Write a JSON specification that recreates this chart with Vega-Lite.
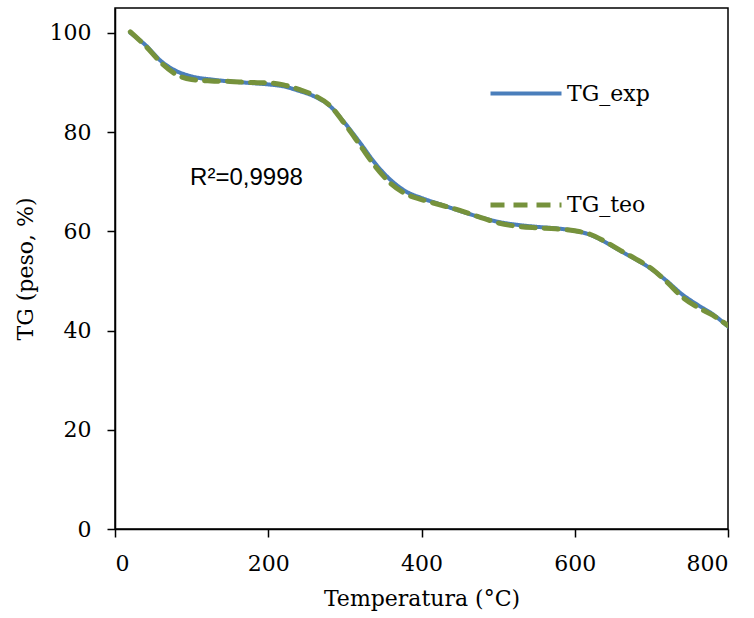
{
  "$schema": "https://vega.github.io/schema/vega-lite/v6.json",
  "autosize": "none",
  "padding": {"left": 115, "top": 8, "right": 26, "bottom": 89},
  "width": 613,
  "height": 521,
  "config": {
    "view": {"stroke": "#000000", "strokeWidth": 1.5},
    "axis": {
      "domainColor": "#000000", "domainWidth": 1.5, "tickColor": "#000000", "tickWidth": 1.5, "tickSize": 8,
      "labelFont": "DejaVu Serif", "labelFontSize": 22, "labelColor": "#000000",
      "titleFont": "DejaVu Serif", "titleFontSize": 22, "titleFontWeight": "normal", "titleColor": "#000000",
      "grid": false
    }
  },
  "datasets": {
    "tg": [
      {"T": 20, "TG": 100, "serie": "TG_exp"},
      {"T": 40, "TG": 97.5, "serie": "TG_exp"},
      {"T": 60, "TG": 94.3, "serie": "TG_exp"},
      {"T": 80, "TG": 92.3, "serie": "TG_exp"},
      {"T": 100, "TG": 91.2, "serie": "TG_exp"},
      {"T": 125, "TG": 90.6, "serie": "TG_exp"},
      {"T": 150, "TG": 90.2, "serie": "TG_exp"},
      {"T": 175, "TG": 89.9, "serie": "TG_exp"},
      {"T": 200, "TG": 89.6, "serie": "TG_exp"},
      {"T": 220, "TG": 89.2, "serie": "TG_exp"},
      {"T": 240, "TG": 88.3, "serie": "TG_exp"},
      {"T": 260, "TG": 87.2, "serie": "TG_exp"},
      {"T": 280, "TG": 85.3, "serie": "TG_exp"},
      {"T": 300, "TG": 81.8, "serie": "TG_exp"},
      {"T": 320, "TG": 77.8, "serie": "TG_exp"},
      {"T": 340, "TG": 73.6, "serie": "TG_exp"},
      {"T": 360, "TG": 70.3, "serie": "TG_exp"},
      {"T": 380, "TG": 68.0, "serie": "TG_exp"},
      {"T": 400, "TG": 66.7, "serie": "TG_exp"},
      {"T": 425, "TG": 65.4, "serie": "TG_exp"},
      {"T": 450, "TG": 64.1, "serie": "TG_exp"},
      {"T": 475, "TG": 62.9, "serie": "TG_exp"},
      {"T": 500, "TG": 61.9, "serie": "TG_exp"},
      {"T": 525, "TG": 61.3, "serie": "TG_exp"},
      {"T": 550, "TG": 60.9, "serie": "TG_exp"},
      {"T": 575, "TG": 60.6, "serie": "TG_exp"},
      {"T": 600, "TG": 60.1, "serie": "TG_exp"},
      {"T": 620, "TG": 59.3, "serie": "TG_exp"},
      {"T": 640, "TG": 57.8, "serie": "TG_exp"},
      {"T": 660, "TG": 56.0, "serie": "TG_exp"},
      {"T": 680, "TG": 54.3, "serie": "TG_exp"},
      {"T": 700, "TG": 52.4, "serie": "TG_exp"},
      {"T": 720, "TG": 50.0, "serie": "TG_exp"},
      {"T": 740, "TG": 47.3, "serie": "TG_exp"},
      {"T": 760, "TG": 45.2, "serie": "TG_exp"},
      {"T": 780, "TG": 43.3, "serie": "TG_exp"},
      {"T": 800, "TG": 40.8, "serie": "TG_exp"},
      {"T": 20, "TG": 100.2, "serie": "TG_teo"},
      {"T": 40, "TG": 97.3, "serie": "TG_teo"},
      {"T": 60, "TG": 94.0, "serie": "TG_teo"},
      {"T": 80, "TG": 91.6, "serie": "TG_teo"},
      {"T": 100, "TG": 90.6, "serie": "TG_teo"},
      {"T": 125, "TG": 90.3, "serie": "TG_teo"},
      {"T": 150, "TG": 90.2, "serie": "TG_teo"},
      {"T": 175, "TG": 90.0, "serie": "TG_teo"},
      {"T": 200, "TG": 89.9, "serie": "TG_teo"},
      {"T": 220, "TG": 89.5, "serie": "TG_teo"},
      {"T": 240, "TG": 88.6, "serie": "TG_teo"},
      {"T": 260, "TG": 87.4, "serie": "TG_teo"},
      {"T": 280, "TG": 85.4, "serie": "TG_teo"},
      {"T": 300, "TG": 81.6, "serie": "TG_teo"},
      {"T": 320, "TG": 77.3, "serie": "TG_teo"},
      {"T": 340, "TG": 73.0, "serie": "TG_teo"},
      {"T": 360, "TG": 69.6, "serie": "TG_teo"},
      {"T": 380, "TG": 67.5, "serie": "TG_teo"},
      {"T": 400, "TG": 66.4, "serie": "TG_teo"},
      {"T": 425, "TG": 65.3, "serie": "TG_teo"},
      {"T": 450, "TG": 64.2, "serie": "TG_teo"},
      {"T": 475, "TG": 62.9, "serie": "TG_teo"},
      {"T": 500, "TG": 61.7, "serie": "TG_teo"},
      {"T": 525, "TG": 61.0, "serie": "TG_teo"},
      {"T": 550, "TG": 60.7, "serie": "TG_teo"},
      {"T": 575, "TG": 60.5, "serie": "TG_teo"},
      {"T": 600, "TG": 60.1, "serie": "TG_teo"},
      {"T": 620, "TG": 59.4, "serie": "TG_teo"},
      {"T": 640, "TG": 57.9, "serie": "TG_teo"},
      {"T": 660, "TG": 56.1, "serie": "TG_teo"},
      {"T": 680, "TG": 54.4, "serie": "TG_teo"},
      {"T": 700, "TG": 52.5, "serie": "TG_teo"},
      {"T": 720, "TG": 49.8, "serie": "TG_teo"},
      {"T": 740, "TG": 46.8, "serie": "TG_teo"},
      {"T": 760, "TG": 44.7, "serie": "TG_teo"},
      {"T": 780, "TG": 43.1, "serie": "TG_teo"},
      {"T": 800, "TG": 41.0, "serie": "TG_teo"}
    ],
    "anot": [{"T": 98, "TG": 70.8, "texto": "R²=0,9998"}]
  },
  "layer": [
    {
      "data": {"name": "tg"},
      "mark": {"type": "line", "interpolate": "monotone", "strokeCap": "round", "clip": true},
      "encoding": {
        "x": {"field": "T", "type": "quantitative", "scale": {"domain": [0, 800], "nice": false},
              "axis": {"values": [0, 200, 400, 600, 800], "title": "Temperatura (°C)", "labelPadding": 16, "titlePadding": 14}},
        "y": {"field": "TG", "type": "quantitative", "scale": {"domain": [0, 105], "nice": false},
              "axis": {"values": [0, 20, 40, 60, 80, 100], "title": "TG (peso, %)", "labelPadding": 16, "titlePadding": 12}},
        "color": {"field": "serie", "type": "nominal",
                  "scale": {"domain": ["TG_exp", "TG_teo"], "range": ["#4A7EBB", "#76923C"]},
                  "legend": {"title": null, "orient": "none", "legendX": 373, "legendY": 48,
                             "symbolType": "stroke", "symbolSize": 5041, "symbolStrokeWidth": 5,
                             "labelFont": "DejaVu Serif", "labelFontSize": 22, "labelColor": "#000000",
                             "rowPadding": 62, "labelOffset": 3}},
        "strokeDash": {"field": "serie", "type": "nominal",
                       "scale": {"domain": ["TG_exp", "TG_teo"], "range": [[1, 0], [14, 9]]}},
        "strokeWidth": {"field": "serie", "type": "nominal",
                        "scale": {"domain": ["TG_exp", "TG_teo"], "range": [4, 5]}, "legend": null}
      }
    },
    {
      "data": {"name": "anot"},
      "mark": {"type": "text", "align": "left", "baseline": "middle", "font": "Liberation Sans", "fontSize": 24, "color": "#000000"},
      "encoding": {
        "x": {"field": "T", "type": "quantitative"},
        "y": {"field": "TG", "type": "quantitative"},
        "text": {"field": "texto"}
      }
    }
  ]
}
